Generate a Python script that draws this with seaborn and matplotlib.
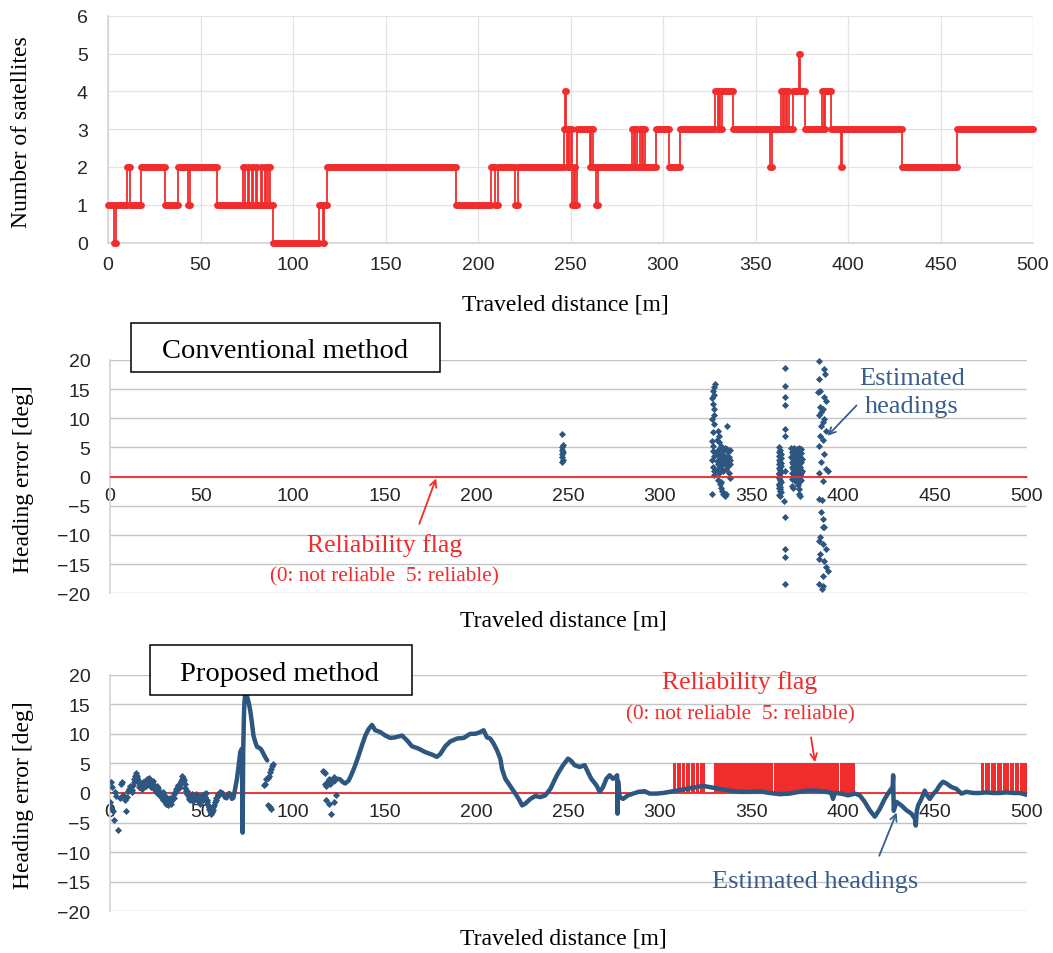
import matplotlib
matplotlib.use("Agg")
import numpy as np
import pandas as pd
import matplotlib.pyplot as plt
import seaborn as sns
from matplotlib.patches import Rectangle

sns.set_theme(style="white")
plt.rcParams["font.family"] = ["Liberation Sans", "DejaVu Sans"]
SERIF = ["Liberation Serif", "DejaVu Serif"]

RED = "#f12c2c"
BLUE = "#2d5680"
TXT_BLUE = "#3a5d8c"

# ---- number of satellites: step start [m] and count ----
sat_start = [0, 3, 4.5, 10, 12, 18, 31, 38, 43, 44.5, 59,
             73, 73.8, 75.5, 76.1, 77.8, 78.4, 80.2, 80.8, 82.5, 83.1, 84.8, 85.4, 86.6, 87.6, 89,
             114, 116, 117, 118.5, 188, 207, 209, 211, 220, 221.5,
             246.5, 247, 247.5, 248, 248.7, 249.3, 250, 251, 252, 252.6, 253.6, 260.5, 261.2, 262, 264, 264.8,
             283.5, 284.3, 285, 285.8, 287.5, 288.5, 289.2, 290, 296, 303, 309,
             328, 329.5, 330.2, 331, 331.7, 338, 358, 358.8,
             364, 364.8, 365.5, 366.3, 367, 368, 370.5, 373.3, 373.8, 377,
             386, 387, 387.6, 391, 396, 396.8, 429, 459]
sat_count = [1, 0, 1, 2, 1, 2, 1, 2, 1, 2, 1,
             2, 1, 2, 1, 2, 1, 2, 1, 2, 1, 2, 1, 2, 1, 0,
             1, 0, 1, 2, 1, 2, 1, 2, 1, 2,
             3, 4, 3, 2, 3, 2, 3, 1, 2, 1, 3, 2, 3, 2, 1, 2,
             3, 2, 3, 2, 3, 2, 3, 2, 3, 2, 3,
             4, 3, 4, 3, 4, 3, 2, 3,
             4, 3, 4, 3, 4, 3, 4, 5, 4, 3,
             4, 3, 4, 3, 2, 3, 2, 3]

# ---- conventional method: estimated heading errors (distance, error) ----
conv_247 = [(247.0, 7.3), (247.1, 5.4), (246.9, 5.0), (247.0, 4.6), (247.1, 4.3),
            (246.9, 3.8), (247.0, 3.3), (247.1, 2.9), (246.9, 2.5)]
conv_330 = [(330.1, 15.8), (329.6, 15.3), (328.8, 14.7), (329.4, 14.0), (328.6, 13.5),
            (329.2, 12.5), (329.5, 11.6), (329.6, 10.5), (328.7, 9.9), (329.8, 9.0),
            (329.1, 7.6), (328.6, 6.1), (329.3, 5.3), (328.9, 4.4), (329.5, 3.6),
            (328.7, 2.9), (329.2, 1.6), (329.8, 1.0), (329.4, 0.2), (328.6, -3.0),
            (336.7, 8.7), (331.9, 7.8), (332.2, 7.0), (331.4, 6.3), (332.6, 6.0),
            (333.2, 5.3), (332.0, 4.6), (333.5, 4.9), (334.2, 4.8), (335.0, 4.5),
            (335.8, 4.9), (336.6, 4.7), (337.4, 4.2), (338.2, 4.6), (330.8, 4.0),
            (331.6, 3.8), (332.4, 3.5), (333.2, 3.9), (334.0, 3.2), (334.8, 3.6),
            (335.6, 3.1), (336.4, 3.4), (337.2, 3.0), (338.0, 3.3), (338.6, 2.8),
            (331.0, 2.6), (331.8, 2.2), (332.6, 2.9), (333.4, 2.4), (334.2, 2.0),
            (335.0, 2.6), (335.8, 2.2), (336.6, 2.5), (337.4, 1.8), (338.2, 2.1),
            (331.4, 1.2), (332.2, 0.7), (333.0, 1.5), (334.6, 1.0), (336.2, 1.3),
            (337.8, 0.6), (332.0, -0.5), (333.4, -0.9), (338.3, -0.3), (333.0, -1.3),
            (333.3, -1.9), (333.8, -2.5), (334.6, -3.0), (335.4, -3.3), (336.0, -2.9)]
conv_366 = [(365.0, 5.0), (365.6, 4.6), (364.8, 4.2), (365.9, 3.9), (365.3, 3.5),
            (366.1, 3.2), (364.9, 2.8), (365.7, 2.5), (365.2, 2.1), (366.0, 1.8),
            (364.8, 1.4), (365.5, 1.1), (366.2, 0.8), (365.1, 0.4), (365.8, 0.1),
            (364.9, -0.3), (365.4, -0.6), (366.0, -1.0), (365.2, -1.3), (365.7, -1.7),
            (364.8, -2.0), (365.5, -2.4), (366.1, -2.7), (365.0, -3.1), (365.6, -3.4),
            (365.3, 0.6), (366.0, 2.3), (364.9, -1.5), (365.5, 3.7), (365.8, -2.2),
            (368.3, 18.7), (368.3, 15.6), (368.4, 13.6), (368.3, 12.2), (368.2, 8.2),
            (368.4, 6.9), (368.3, 1.0), (367.9, -4.1), (368.3, -6.9), (368.2, -12.4),
            (368.3, -13.8), (368.3, -18.4)]
conv_375 = [(371.8, 4.9), (372.6, 4.7), (373.4, 4.9), (374.2, 4.6), (375.0, 4.8),
            (375.8, 4.9), (376.6, 4.5), (377.3, 4.7), (372.0, 4.2), (372.9, 3.9),
            (373.7, 4.1), (374.5, 3.7), (375.3, 4.3), (376.1, 3.8), (376.9, 4.0),
            (371.7, 3.4), (372.5, 3.1), (373.3, 3.5), (374.1, 2.9), (374.9, 3.3),
            (375.7, 3.0), (376.5, 3.4), (377.4, 3.1), (372.1, 2.5), (372.9, 2.2),
            (373.8, 2.6), (374.6, 2.0), (375.4, 2.4), (376.2, 2.1), (377.0, 2.5),
            (371.9, 1.6), (372.7, 1.3), (373.5, 1.7), (374.3, 1.1), (375.1, 1.5),
            (375.9, 1.2), (376.7, 1.6), (377.5, 1.0), (372.3, 0.6), (373.1, 0.3),
            (374.0, 0.7), (374.8, 0.1), (375.6, 0.5), (376.4, 0.2), (377.2, 0.6),
            (372.4, -0.4), (373.6, -0.8), (375.2, -0.5), (376.0, -1.0), (377.0, -0.6),
            (372.0, -1.6), (375.5, -1.5), (376.2, -2.2), (375.8, -2.9), (376.5, -3.4),
            (372.6, -2.0)]
conv_389 = [(387.1, 19.9), (389.8, 18.5), (390.3, 17.6), (386.7, 16.7), (386.1, 14.5),
            (387.4, 14.7), (389.8, 13.6), (390.7, 13.0), (387.4, 11.9), (389.2, 11.6),
            (388.0, 11.0), (387.1, 10.5), (389.8, 9.9), (388.9, 9.3), (388.0, 8.7),
            (390.7, 7.9), (387.4, 7.0), (389.2, 6.2), (387.1, 5.3), (389.8, 3.9),
            (388.0, 2.5), (390.7, 1.3), (387.1, 0.7), (389.2, -0.7), (391.6, 1.0),
            (386.7, -3.8), (388.5, -4.0), (388.0, -6.1), (388.9, -7.3), (389.2, -8.7),
            (387.4, -10.4), (386.7, -11.0), (388.9, -11.5), (390.7, -12.4), (387.4, -13.3),
            (387.1, -14.1), (389.8, -14.4), (390.7, -15.5), (388.9, -17.0), (387.1, -18.4),
            (389.2, -18.7), (388.5, -19.3), (391.6, -16.1), (389.8, -8.7)]
conv_flag_dist = [0, 500]
conv_flag = [0, 0]

# ---- proposed method: estimated heading errors ----
prop_scatter_dist = [0.3, 0.6, 1.0, 1.3, 1.8, 2.2, 3.0, 3.6, 4.9, 5.5, 6.2, 6.8, 7.5, 8.2, 9.0, 9.6,
                     10.3, 11.0, 11.8, 12.5, 13.2, 13.8, 14.5, 15.0, 15.8, 16.5, 17.2, 18.0, 18.8,
                     19.5, 20.3, 21.0, 21.8, 22.5, 23.2, 24.0, 24.8, 25.5, 26.3, 27.0, 27.8, 28.5,
                     29.3, 30.0, 30.8, 31.5, 32.3, 33.0, 33.8, 34.5, 35.3, 36.0, 36.8, 37.5, 38.3,
                     39.0, 39.8, 40.5, 41.2, 42.0, 42.8, 43.5, 44.3, 45.0, 45.8, 46.5, 47.3, 48.0,
                     48.8, 49.5, 50.3, 51.0, 51.8, 52.5, 53.3, 54.0, 54.8, 55.5, 56.2, 57.0, 57.8,
                     58.5, 59.3, 60.0, 60.8,
                     84.0, 84.9, 85.5, 86.2, 86.7, 87.4, 88.0, 88.6, 89.1, 86.6, 87.4, 88.2,
                     116.4, 117.0, 117.7, 117.3, 118.2, 119.0, 119.5, 120.3, 121.0, 122.2, 117.9,
                     119.7, 120.6, 122.5, 123.5]
prop_scatter_err = [-1.5, -2.5, 1.8, 1.0, -3.0, -4.5, 0.2, -0.5, -6.3, -0.8, 1.5, 1.8, -0.3, -1.2, -3.0, -0.6,
                    0.3, 0.8, 1.0, 0.5, 1.9, 2.9, 3.1, 2.8, 1.8, 1.3, 0.9, 1.6, 1.2,
                    2.0, 2.4, 1.5, 2.2, 1.0, 1.8, 0.6, 1.2, 0.2, 0.9, -0.4, 0.1, -0.8,
                    -1.2, -0.5, -1.9, -1.3, -1.6, -0.9, -1.4, -0.6, -0.2, 0.6, 0.9, 1.2, 1.5,
                    2.0, 2.9, 2.2, 0.8, 0.3, -0.4, -1.0, -0.6, -0.2, -1.3, -0.7, -0.3, -1.0,
                    -0.5, -1.8, -0.3, -1.2, -0.6, 0.0, -1.6, -2.4, -3.1, -3.6, -2.8, -2.0, -1.2,
                    -0.6, -0.2, 0.1, 0.0,
                    1.3, 1.5, 2.4, 2.6, 2.9, 3.6, 4.1, 4.5, 4.9, -2.1, -2.4, -2.7,
                    3.8, 3.5, 3.3, 1.5, 1.2, 2.0, 2.4, 1.6, 2.2, 2.7, -1.2,
                    -1.8, -3.5, -1.5, -0.4]
# second pass of samples in the noisy start section (distance, error)
prop_noisy_extra = [(10.7, 0.6), (11.4, 1.2), (12.1, 0.2), (12.9, 1.4), (13.5, 2.4), (14.2, 3.3),
                    (14.8, 2.6), (15.4, 2.2), (16.1, 1.0), (16.9, 1.7), (17.6, 0.7), (18.4, 1.9),
                    (19.1, 1.5), (19.9, 1.2), (20.7, 2.0), (21.4, 2.5), (22.1, 1.6), (22.9, 1.3),
                    (23.6, 2.1), (24.4, 1.0), (25.1, 0.7), (25.9, 1.1), (26.7, 0.4), (27.4, -0.1),
                    (28.1, -0.3), (28.9, 0.2), (29.7, -0.9), (30.4, -1.4), (31.1, -0.8), (31.9, -2.0),
                    (32.7, -1.1), (33.4, -1.8), (34.1, -1.0), (34.9, -0.9), (35.7, 0.2), (36.4, 0.3),
                    (37.1, 1.4), (37.9, 0.9), (38.7, 1.0), (39.4, 2.4), (40.1, 2.6), (40.9, 1.5),
                    (41.6, 0.4), (42.4, -0.1), (43.1, -0.7), (43.9, -1.2), (44.7, -0.9), (45.4, -0.5),
                    (46.1, -1.0), (46.9, -0.2), (47.7, -0.6), (48.4, -1.4), (49.1, -0.9), (49.9, -1.0),
                    (50.7, -0.7), (51.4, -0.2), (52.1, -0.9), (52.9, -1.2), (53.7, -2.0), (54.4, -2.7),
                    (55.1, -3.4), (55.9, -3.2), (56.6, -2.4), (57.4, -1.6), (58.1, -0.9), (58.9, -0.4),
                    (59.7, -0.1), (60.4, 0.2)]

prop_seg1_dist = [61.5, 62.3, 63, 63.8, 64.5, 65.3, 66, 66.7, 67.6, 68.5, 69.5, 70.4, 71.3, 72.2, 72.6,
                  72.9, 73.3, 73.6, 74.0, 74.6, 75.2, 75.8, 76.7, 77.6, 78.5, 79.5, 80.4, 81.3, 82.2,
                  83.0, 84.0, 85.0, 86.0]
prop_seg1_err = [0.1, -0.4, -0.8, -0.9, -0.4, 0.0, -0.3, -1.0, -0.8, 0.7, 2.4, 4.6, 6.9, 7.5, -6.7,
                 7.0, 13.0, 15.5, 16.5, 16.6, 16.1, 15.4, 14.0, 12.0, 9.7, 8.6, 7.8, 7.7, 7.5,
                 7.2, 6.6, 6.0, 5.5]

prop_seg2_dist = [122.5, 123.5, 124.5, 125.8, 127, 128.5, 130.4, 132.2, 134, 135.8, 137.6, 139.5, 141.3,
                  143.1, 144.9, 147.6, 150.4, 153.1, 155.8, 159.5, 162.2, 164.9, 168.5, 172.2, 175.8,
                  178.5, 180.4, 183.1, 185.8, 189.5, 193.1, 196.7, 199.5, 202.2, 204, 205.8, 207.6,
                  209.5, 211.3, 213.1, 214, 215.8, 217.6, 219.5, 221.3, 223.1, 225, 226.7, 229.5,
                  232.2, 234.9, 237.6, 240.4, 242.7, 244.5, 247.3, 250, 251.8, 253.6, 256.4, 259.1,
                  260.9, 262.7, 265.5, 267.3, 269.1, 270.9, 272.7, 274.5, 276, 276.8, 277.0, 277.3,
                  278.2, 280, 282.7, 285.5, 288.5, 291.8, 294.5, 298.2, 301.8, 305.5, 309.1, 314.5,
                  320, 323.6, 327.3, 332.7, 338.2, 343.6, 349.1, 354.5, 360, 365.5, 370.9, 376, 380,
                  385.5, 390.9, 393.5, 394.5, 395.5, 399, 402.7, 406.4, 409.1, 411.8, 414.5, 417.3,
                  420, 422.7, 425.5, 427.0, 427.3, 427.6, 429.1, 431.8, 434.5, 437.3, 439.1, 439.6,
                  440.2, 440.9, 442.7, 444.5, 446, 447.3, 449, 450.9, 452.7, 454.5, 456.4, 459.1,
                  461.8, 464.5, 467.3, 470.9, 474.5, 478, 481.8, 485.5, 489.1, 493, 496.5, 500]
prop_seg2_err = [1.8, 2.2, 2.4, 2.3, 1.9, 1.6, 2.1, 3.3, 4.7, 6.3, 8.0, 9.7, 10.8,
                 11.5, 10.6, 10.3, 9.7, 9.3, 9.4, 9.7, 8.9, 7.9, 7.5, 6.9, 6.5,
                 6.1, 6.6, 7.9, 8.7, 9.2, 9.3, 10.0, 10.0, 10.3, 10.6, 9.4, 9.2,
                 8.3, 7.2, 5.8, 4.1, 2.4, 1.6, 0.7, -0.1, -1.0, -2.1, -1.8, -1.0,
                 -0.5, -0.7, -0.4, 0.7, 2.2, 3.3, 4.7, 5.8, 5.4, 4.7, 4.4, 4.7,
                 3.5, 2.4, 1.3, 0.2, 1.0, 2.4, 3.0, 2.4, 2.7, 3.0, -3.5, 2.0,
                 -0.7, -1.0, -0.4, -0.1, 0.2, 0.3, -0.1, -0.1, 0.0, 0.2, 0.4, 0.7,
                 1.0, 1.2, 1.0, 0.7, 0.4, 0.2, 0.2, 0.3, 0.0, -0.2, -0.1, 0.2, 0.4,
                 0.4, 0.2, 0.0, -1.0, 0.0, -0.1, -0.4, -0.1, -0.4, -1.5, -2.9, -4.0,
                 -2.7, -1.0, 0.4, 1.0, 3.0, -3.0, -1.5, -2.1, -2.9, -3.5, -4.3, -5.5,
                 -3.0, -2.1, -1.0, 0.4, -0.5, -1.0, -0.2, 0.4, 1.3, 1.9, 1.6, 1.0,
                 0.7, -0.1, 0.2, 0.0, 0.0, 0.1, 0.0, 0.0, 0.1, 0.0, 0.0, -0.3]

# reliability flag = 5 intervals (flag is 0 elsewhere)
flag_on_start = [307.3, 309.6, 312.1, 314.3, 317.0, 319.6, 322.2,
                 329.5, 336.1, 345.1, 352.1, 362.1, 372.1, 383.1, 390.1, 398.1,
                 475.0, 477.6, 480.5, 484.0, 487.0, 491.0, 493.6, 496.6]
flag_on_end = [309.0, 311.5, 313.6, 316.5, 319.0, 321.6, 324.5,
               336.0, 345.0, 352.0, 362.0, 372.0, 383.0, 390.0, 398.0, 406.4,
               477.0, 480.0, 483.5, 486.5, 490.5, 493.0, 496.0, 500.0]
flag_level = 5
prop_flag_dist = [0, 500]
prop_flag = [0, 0]

xticks = list(range(0, 501, 50))

# ---------------------------------------------------------------
W, H = 1053, 954
fig = plt.figure(figsize=(W / 100, H / 100), dpi=100)
ax1 = fig.add_axes([108 / W, 1 - 243.5 / H, 925 / W, 226.8 / H])
ax2 = fig.add_axes([109.5 / W, 1 - 594.3 / H, 917 / W, 233.3 / H])
ax3 = fig.add_axes([109.5 / W, 1 - 912.4 / H, 917 / W, 236.8 / H])

# ---- panel 1: number of satellites ----
sat_end = sat_start[1:] + [500]
step_x = sat_start + [500]
step_y = sat_count + [sat_count[-1]]
sns.lineplot(x=step_x, y=step_y, ax=ax1, drawstyle="steps-post", estimator=None, sort=False,
             color=RED, lw=1.3, clip_on=False, zorder=3)
ax1.hlines(sat_count, sat_start, sat_end, colors=RED, lw=5, capstyle="round",
           clip_on=False, zorder=4)
ax1.set_xlim(0, 500)
ax1.set_ylim(0, 6)
ax1.set_xticks(xticks)
ax1.set_yticks(range(0, 7))
ax1.grid(True, color="#e3e3e3", lw=0.9)
for s in ["top", "right"]:
    ax1.spines[s].set_visible(False)
for s in ["left", "bottom"]:
    ax1.spines[s].set_color("#d6d6d6")
ax1.tick_params(axis="x", length=0, pad=9.5, labelsize=14)
ax1.tick_params(axis="y", length=0, pad=14.5, labelsize=14)
ax1.set_xlabel("Traveled distance [m]", fontsize=17, family=SERIF, color="black")
ax1.xaxis.label.set_va("center")
ax1.xaxis.set_label_coords(0.495, -0.271)
ax1.set_ylabel("Number of satellites", fontsize=17, family=SERIF, color="black")
ax1.yaxis.label.set_va("center")
ax1.yaxis.set_label_coords(-0.094, 0.489)


def style_heading(ax, label_y):
    ax.set_xlim(0, 500)
    ax.set_ylim(-20, 20)
    ax.set_xticks(xticks)
    ax.set_yticks(range(-20, 21, 5))
    ax.yaxis.grid(True, color="#c4c4c4", lw=1)
    ax.xaxis.grid(False)
    ax.set_axisbelow(True)
    for s in ["top", "right"]:
        ax.spines[s].set_visible(False)
    ax.spines["left"].set_color("#d4d4d4")
    ax.spines["bottom"].set_position(("data", 0))
    ax.spines["bottom"].set_color("#bdbdbd")
    ax.spines["bottom"].set_zorder(1)
    ax.tick_params(axis="x", length=3, width=1, color="#b5b5b5", pad=4.3, labelsize=14)
    ax.tick_params(axis="y", length=0, pad=13.7, labelsize=14)
    ax.set_xlabel("Traveled distance [m]", fontsize=17, family=SERIF, color="black")
    ax.xaxis.label.set_va("center")
    ax.xaxis.set_label_coords(0.495, label_y)
    ax.set_ylabel("Heading error [deg]", fontsize=17, family=SERIF, color="black")
    ax.yaxis.label.set_va("center")
    ax.yaxis.set_label_coords(-0.0936, 0.495)


# ---- panel 2: conventional method ----
conv_pts = conv_247 + conv_330 + conv_366 + conv_375 + conv_389
conv_df = pd.DataFrame(conv_pts, columns=["dist", "err"])
sns.scatterplot(data=conv_df, x="dist", y="err", ax=ax2, marker="D", s=13, color=BLUE,
                linewidth=0, zorder=3, clip_on=False)
sns.lineplot(x=conv_flag_dist, y=conv_flag, ax=ax2, color=RED, lw=1.3, estimator=None, zorder=4)
style_heading(ax2, -0.114)

ax2.add_patch(Rectangle((11.9, 17.9), 180 - 11.9, 26.35 - 17.9, transform=ax2.transData,
                        fc="white", ec="black", lw=1.1, clip_on=False, zorder=5))
ax2.text(95.6, 20.47, "Conventional method", ha="center", va="baseline", fontsize=20.5,
         family=SERIF, color="black", zorder=6)
ax2.text(150, -12.8, "Reliability flag", ha="center", va="baseline", fontsize=18.5,
         family=SERIF, color=RED)
ax2.text(150, -17.83, "(0: not reliable  5: reliable)", ha="center", va="baseline",
         fontsize=15.3, family=SERIF, color=RED)
ax2.annotate("", xy=(178.1, -0.3), xytext=(168.9, -8.1),
             arrowprops=dict(arrowstyle="->", color=RED, lw=1.3, shrinkA=0, shrinkB=0))
ax2.text(437.9, 15.9, "Estimated", ha="center", va="baseline", fontsize=19,
         family=SERIF, color=TXT_BLUE)
ax2.text(437.4, 11.04, "headings", ha="center", va="baseline", fontsize=19,
         family=SERIF, color=TXT_BLUE)
ax2.annotate("", xy=(391.5, 7.0), xytext=(407.3, 12.2),
             arrowprops=dict(arrowstyle="->", color=TXT_BLUE, lw=1.3, shrinkA=0, shrinkB=0))

# ---- panel 3: proposed method ----
widths = [e - s for s, e in zip(flag_on_start, flag_on_end)]
ax3.bar(flag_on_start, [flag_level] * len(flag_on_start), width=widths, align="edge",
        color=RED, lw=0, zorder=2)
sns.lineplot(x=prop_flag_dist, y=prop_flag, ax=ax3, color=RED, lw=1.3, estimator=None, zorder=3)

seg_df = pd.DataFrame({
    "dist": prop_seg1_dist + prop_seg2_dist,
    "err": prop_seg1_err + prop_seg2_err,
    "seg": [1] * len(prop_seg1_dist) + [2] * len(prop_seg2_dist),
})
sns.lineplot(data=seg_df, x="dist", y="err", units="seg", estimator=None, sort=False,
             ax=ax3, color=BLUE, lw=3.2, zorder=4)
scat_df = pd.DataFrame({
    "dist": prop_scatter_dist + [p[0] for p in prop_noisy_extra],
    "err": prop_scatter_err + [p[1] for p in prop_noisy_extra],
})
sns.scatterplot(data=scat_df, x="dist", y="err", ax=ax3, marker="D", s=13,
                color=BLUE, linewidth=0, zorder=4)
style_heading(ax3, -0.112)

ax3.add_patch(Rectangle((22.3, 16.6), 164.8 - 22.3, 25.0 - 16.6, transform=ax3.transData,
                        fc="white", ec="black", lw=1.1, clip_on=False, zorder=5))
ax3.text(92.8, 19.14, "Proposed method", ha="center", va="baseline", fontsize=20.5,
         family=SERIF, color="black", zorder=6)
ax3.text(343.8, 17.8, "Reliability flag", ha="center", va="baseline", fontsize=18.5,
         family=SERIF, color=RED)
ax3.text(343.8, 12.6, "(0: not reliable  5: reliable)", ha="center", va="baseline",
         fontsize=15.3, family=SERIF, color=RED)
ax3.annotate("", xy=(384.7, 5.2), xytext=(382.5, 9.4),
             arrowprops=dict(arrowstyle="->", color=RED, lw=1.3, shrinkA=0, shrinkB=0))
ax3.text(385, -15.9, "Estimated headings", ha="center", va="baseline", fontsize=19,
         family=SERIF, color=TXT_BLUE)
ax3.annotate("", xy=(429.2, -3.3), xytext=(419.7, -10.6),
             arrowprops=dict(arrowstyle="->", color=TXT_BLUE, lw=1.3, shrinkA=0, shrinkB=0))

fig.savefig("out.png", dpi=100)
